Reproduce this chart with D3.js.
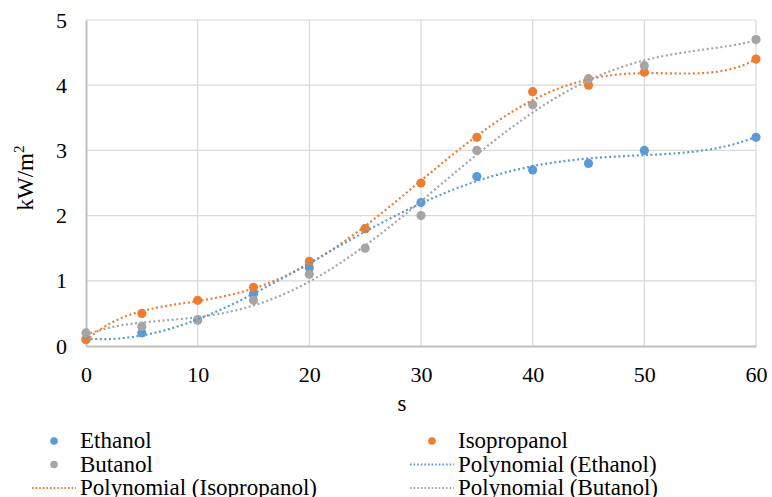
<!DOCTYPE html>
<html>
<head>
<meta charset="utf-8">
<script src="https://cdn.jsdelivr.net/npm/d3@7"></script>
</head>
<body style="margin:0">
<script>
// data
const seconds = [0, 5, 10, 15, 20, 25, 30, 35, 40, 45, 50, 60];
const ethanol = [0.1, 0.2, 0.4, 0.8, 1.2, 1.8, 2.2, 2.6, 2.7, 2.8, 3.0, 3.2];
const isopropanol = [0.1, 0.5, 0.7, 0.9, 1.3, 1.8, 2.5, 3.2, 3.9, 4.0, 4.2, 4.4];
const butanol = [0.2, 0.3, 0.4, 0.7, 1.1, 1.5, 2.0, 3.0, 3.7, 4.1, 4.3, 4.7];
const xTicks = [0, 10, 20, 30, 40, 50, 60];
const yTicks = [0, 1, 2, 3, 4, 5];

const width = 772, height = 497;
const margin = {top: 20, right: 16, bottom: 151, left: 86};

const colors = {Ethanol: "#5b9bd5", Isopropanol: "#ed7d31", Butanol: "#a5a5a5"};
const series = [
  {name: "Ethanol", values: ethanol},
  {name: "Isopropanol", values: isopropanol},
  {name: "Butanol", values: butanol}
];

const x = d3.scaleLinear().domain([0, 60]).range([margin.left, width - margin.right]);
const y = d3.scaleLinear().domain([0, 5]).range([height - margin.bottom, margin.top]);

const svg = d3.select("body").append("svg")
  .attr("width", width)
  .attr("height", height);

// gridlines
svg.append("g")
  .selectAll("line")
  .data(yTicks.slice(1))
  .enter().append("line")
  .attr("x1", x(0)).attr("x2", x(60))
  .attr("y1", d => y(d)).attr("y2", d => y(d))
  .attr("stroke", "#d9d9d9").attr("stroke-width", 1.2);

svg.append("g")
  .selectAll("line")
  .data(xTicks.slice(1))
  .enter().append("line")
  .attr("y1", y(0)).attr("y2", y(5))
  .attr("x1", d => x(d)).attr("x2", d => x(d))
  .attr("stroke", "#d9d9d9").attr("stroke-width", 1.2);

// axes
const xAxis = svg.append("g")
  .attr("transform", "translate(0," + y(0) + ")")
  .call(d3.axisBottom(x).tickValues(xTicks).tickFormat(d3.format("d")).tickSize(0).tickPadding(20));
const yAxis = svg.append("g")
  .attr("transform", "translate(" + x(0) + ",0)")
  .call(d3.axisLeft(y).tickValues(yTicks).tickFormat(d3.format("d")).tickSize(0).tickPadding(19));

[xAxis, yAxis].forEach(function(a) {
  a.attr("font-family", "Liberation Serif").attr("font-size", 22);
  a.select(".domain").attr("stroke", "#bfbfbf").attr("stroke-width", 2);
  a.selectAll("text").attr("fill", "#000");
});

// axis titles
svg.append("text")
  .attr("x", 402).attr("y", 411)
  .attr("text-anchor", "middle")
  .attr("font-size", 23)
  .text("s");

const yTitle = svg.append("text")
  .attr("transform", "translate(33,178) rotate(-90)")
  .attr("text-anchor", "middle")
  .attr("font-size", 23);
yTitle.append("tspan").text("kW/m");
yTitle.append("tspan").attr("font-size", 15).attr("dy", -9).text("2");

// polynomial trendline (least squares, order 5)
function polyFit(xs, ys, order) {
  const n = order + 1;
  const A = [];
  for (let i = 0; i < n; i++) {
    A.push(new Array(n + 1).fill(0));
  }
  for (let k = 0; k < xs.length; k++) {
    const t = xs[k] / 60;
    for (let i = 0; i < n; i++) {
      for (let j = 0; j < n; j++) A[i][j] += Math.pow(t, i + j);
      A[i][n] += ys[k] * Math.pow(t, i);
    }
  }
  for (let c = 0; c < n; c++) {
    let p = c;
    for (let r = c + 1; r < n; r++) if (Math.abs(A[r][c]) > Math.abs(A[p][c])) p = r;
    const tmp = A[c]; A[c] = A[p]; A[p] = tmp;
    for (let r = 0; r < n; r++) {
      if (r === c) continue;
      const f = A[r][c] / A[c][c];
      for (let j = c; j <= n; j++) A[r][j] -= f * A[c][j];
    }
  }
  const coef = A.map((row, i) => row[n] / row[i]);
  return function(xv) {
    const t = xv / 60;
    let s = 0;
    for (let i = n - 1; i >= 0; i--) s = s * t + coef[i];
    return s;
  };
}

const line = d3.line().x(d => x(d[0])).y(d => y(d[1]));
const xs = d3.range(0, 60.01, 0.5);

series.forEach(function(s) {
  svg.append("g").selectAll("circle")
    .data(seconds.map((sx, i) => [sx, s.values[i]]))
    .enter().append("circle")
    .attr("cx", d => x(d[0])).attr("cy", d => y(d[1]))
    .attr("r", 4.6)
    .attr("fill", colors[s.name]);
});

["Isopropanol", "Ethanol", "Butanol"].forEach(function(name) {
  const s = series.find(d => d.name === name);
  const f = polyFit(seconds, s.values, 5);
  svg.append("path")
    .datum(xs.map(v => [v, f(v)]))
    .attr("d", line)
    .attr("fill", "none")
    .attr("stroke", colors[name])
    .attr("stroke-width", 2.2)
    .attr("stroke-dasharray", "2,2.6");
});

// legend
const legendItems = [
  {label: "Ethanol", type: "dot", color: colors.Ethanol, col: 0, row: 0},
  {label: "Isopropanol", type: "dot", color: colors.Isopropanol, col: 1, row: 0},
  {label: "Butanol", type: "dot", color: colors.Butanol, col: 0, row: 1},
  {label: "Polynomial (Ethanol)", type: "line", color: colors.Ethanol, col: 1, row: 1},
  {label: "Polynomial (Isopropanol)", type: "line", color: colors.Isopropanol, col: 0, row: 2},
  {label: "Polynomial (Butanol)", type: "line", color: colors.Butanol, col: 1, row: 2}
];
const colX = [80, 458];
const rowY = [448, 471.5, 495];

const legend = svg.append("g");
legendItems.forEach(function(d) {
  const tx = colX[d.col], ty = rowY[d.row];
  if (d.type === "dot") {
    legend.append("circle")
      .attr("cx", tx - 26).attr("cy", ty - 7)
      .attr("r", 3.8).attr("fill", d.color);
  } else {
    legend.append("line")
      .attr("x1", tx - 48).attr("x2", tx - 4)
      .attr("y1", ty - 7).attr("y2", ty - 7)
      .attr("stroke", d.color).attr("stroke-width", 2)
      .attr("stroke-dasharray", "1.6,2");
  }
  legend.append("text")
    .attr("x", tx).attr("y", ty)
    .attr("font-size", 23)
    .text(d.label);
});

// serif face on every text
svg.selectAll("text")
  .attr("font-family", "Liberation Serif")
  .style("font-family", "'Liberation Serif', monospace");
</script>
</body>
</html>
